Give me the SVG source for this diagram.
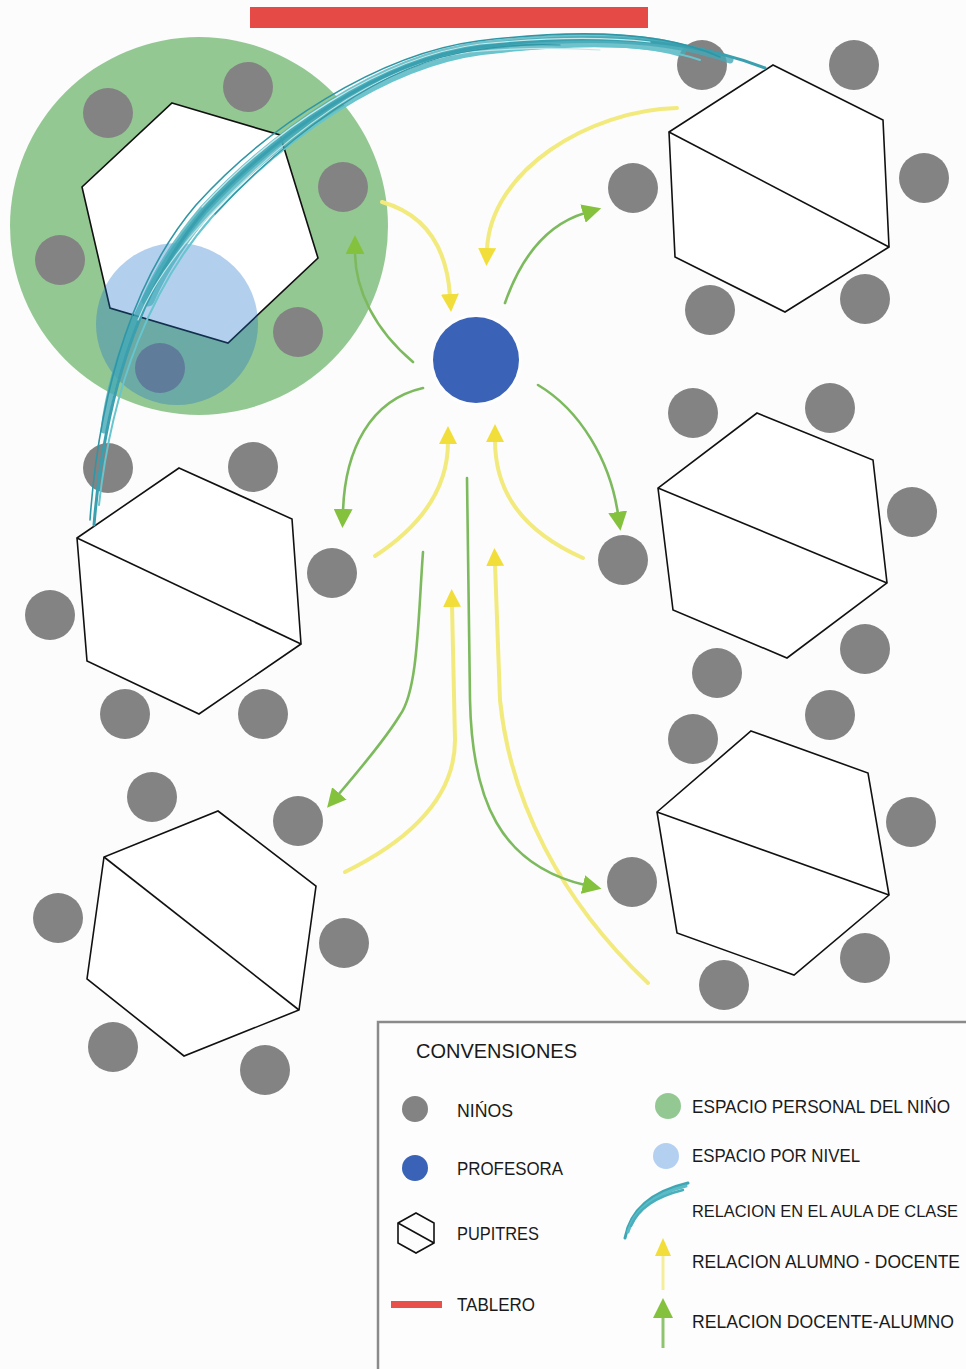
<svg xmlns="http://www.w3.org/2000/svg" width="966" height="1369" viewBox="0 0 966 1369">
  <style>
    .kid { fill: #838383; }
    .desk { fill: #ffffff; stroke: #111111; stroke-width: 1.6; stroke-linejoin: miter; }
    .cut { stroke: #111111; stroke-width: 1.6; fill: none; }
    .yel { fill: none; stroke: #f2ea7c; stroke-width: 4; stroke-linecap: round; }
    .grn { fill: none; stroke: #7dba5e; stroke-width: 2.6; stroke-linecap: round; }
    .teal { fill: none; stroke-linecap: round; stroke-linejoin: round; }
    .lbl { font-family: "Liberation Sans", "Open Sans", sans-serif; font-size: 19px; fill: #1a1a1a; }
    .lbr { font-family: "Liberation Sans", "Open Sans", sans-serif; font-size: 17.5px; fill: #1a1a1a; }
    .lbs { font-family: "Liberation Sans", "Open Sans", sans-serif; font-size: 16px; fill: #1a1a1a; }
    .ttl { font-family: "Liberation Sans", "Open Sans", sans-serif; font-size: 21px; fill: #1a1a1a; }
  </style>
  <defs>
    <marker id="headY" viewBox="0 0 18 18" markerWidth="18" markerHeight="18" refX="2" refY="9" orient="auto" markerUnits="userSpaceOnUse">
      <path d="M0,0 L18,9 L0,18 z" fill="#f2de3a"/>
    </marker>
    <marker id="headG" viewBox="0 0 18 18" markerWidth="19" markerHeight="19" refX="2" refY="9" orient="auto" markerUnits="userSpaceOnUse">
      <path d="M0,0 L18,9 L0,18 z" fill="#84c23e"/>
    </marker>
  </defs>

  <!-- room background -->
  <rect x="0" y="0" width="966" height="1369" fill="#fcfcfc"/>

  <!-- board -->
  <g id="tablero">
    <rect x="250" y="7" width="398" height="21" fill="#e64a47"/>
  </g>

  <!-- personal space of one child, with its table -->
  <g id="grupo-espacio-personal">
    <circle cx="199" cy="226" r="189" fill="#94c893"/>
    <polygon class="desk" points="172,103 280,135 318,258 228,343 110,308 82,187"/>
    <circle class="kid" cx="108" cy="113" r="25"/>
    <circle class="kid" cx="248" cy="87" r="25"/>
    <circle class="kid" cx="343" cy="187" r="25"/>
    <circle class="kid" cx="60" cy="260" r="25"/>
    <circle class="kid" cx="298" cy="332" r="25"/>
    <circle class="kid" cx="160" cy="368" r="25"/>
    <!-- level space, translucent over table and children -->
    <circle cx="177" cy="324" r="81" fill="#196dcb" fill-opacity="0.33"/>
  </g>

  <!-- top right table -->
  <g id="pupitre-1">
    <polygon class="desk" points="773,65 883,120 889,247 785,312 675,257 669,132"/>
    <line class="cut" x1="669" y1="132" x2="889" y2="247"/>
    <circle class="kid" cx="702" cy="65" r="25"/>
    <circle class="kid" cx="854" cy="65" r="25"/>
    <circle class="kid" cx="924" cy="178" r="25"/>
    <circle class="kid" cx="633" cy="188" r="25"/>
    <circle class="kid" cx="710" cy="310" r="25"/>
    <circle class="kid" cx="865" cy="299" r="25"/>
  </g>

  <!-- right middle table -->
  <g id="pupitre-2">
    <polygon class="desk" points="757,413 873,460 887,583 787,658 673,610 658,488"/>
    <line class="cut" x1="658" y1="488" x2="887" y2="583"/>
    <circle class="kid" cx="693" cy="413" r="25"/>
    <circle class="kid" cx="830" cy="408" r="25"/>
    <circle class="kid" cx="912" cy="512" r="25"/>
    <circle class="kid" cx="623" cy="560" r="25"/>
    <circle class="kid" cx="717" cy="673" r="25"/>
    <circle class="kid" cx="865" cy="649" r="25"/>
  </g>

  <!-- right bottom table -->
  <g id="pupitre-3">
    <polygon class="desk" points="751,731 868,773 889,895 794,975 677,933 657,812"/>
    <line class="cut" x1="657" y1="812" x2="889" y2="895"/>
    <circle class="kid" cx="693" cy="739" r="25"/>
    <circle class="kid" cx="830" cy="715" r="25"/>
    <circle class="kid" cx="911" cy="822" r="25"/>
    <circle class="kid" cx="632" cy="882" r="25"/>
    <circle class="kid" cx="724" cy="985" r="25"/>
    <circle class="kid" cx="865" cy="958" r="25"/>
  </g>

  <!-- left middle table -->
  <g id="pupitre-4">
    <polygon class="desk" points="179,468 292,519 301,644 199,714 87,661 77,538"/>
    <line class="cut" x1="77" y1="538" x2="301" y2="644"/>
    <circle class="kid" cx="108" cy="468" r="25"/>
    <circle class="kid" cx="253" cy="467" r="25"/>
    <circle class="kid" cx="332" cy="573" r="25"/>
    <circle class="kid" cx="50" cy="615" r="25"/>
    <circle class="kid" cx="125" cy="714" r="25"/>
    <circle class="kid" cx="263" cy="714" r="25"/>
  </g>

  <!-- left bottom table -->
  <g id="pupitre-5">
    <polygon class="desk" points="218,811 316,886 299,1010 184,1056 87,979 104,857"/>
    <line class="cut" x1="104" y1="857" x2="299" y2="1010"/>
    <circle class="kid" cx="152" cy="797" r="25"/>
    <circle class="kid" cx="298" cy="821" r="25"/>
    <circle class="kid" cx="344" cy="943" r="25"/>
    <circle class="kid" cx="58" cy="918" r="25"/>
    <circle class="kid" cx="113" cy="1047" r="25"/>
    <circle class="kid" cx="265" cy="1070" r="25"/>
  </g>

  <!-- brushed classroom relation stroke: wide band in the middle, thin at both ends -->
  <g id="relacion-aula">
    <path class="teal" stroke="#45adb9" stroke-opacity="0.75" stroke-width="13" d="M680,50 Q620,32 480,48 C380,61 275,136 205,211 C178,243 160,272 148,300"/>
    <path class="teal" stroke="#43a9b7" stroke-opacity="0.8" stroke-width="7" d="M730,60 Q640,27 480,47 C380,60 275,135 205,210 C146,279 112,360 104,430"/>
    <path class="teal" stroke="#3a9fae" stroke-width="3" d="M765,68 Q650,24 480,47 C380,60 275,135 205,210 C146,279 106,380 94,525"/>
    <path class="teal" stroke="#2f96a6" stroke-width="1.6" d="M720,57 Q640,21 478,41 C378,54 266,127 196,205 C138,273 100,380 90,520"/>
    <path class="teal" stroke="#66c5ce" stroke-width="2" d="M700,60 Q630,36 482,54 C384,67 281,141 212,217 C152,285 112,385 99,505"/>
    <path class="teal" stroke="#c6e9ec" stroke-width="1.2" d="M650,42 Q580,34 480,44 C380,57 272,131 202,207"/>
    <path class="teal" stroke="#bfe6ea" stroke-width="1.2" d="M600,50 Q540,46 470,52 C372,66 280,140 210,215 C170,258 150,290 138,320"/>
    <path class="teal" stroke="#2f96a6" stroke-width="1.2" d="M560,45 Q520,43 476,50 C380,63 285,139 215,214"/>
  </g>

  <!-- connectors: student to teacher (yellow), teacher to student (green) -->
  <g id="conectores">
    <path class="yel" marker-end="url(#headY)" d="M382,202 Q445,220 450,296"/>
    <path class="yel" marker-end="url(#headY)" d="M677,108 C590,110 490,170 487,250"/>
    <path class="yel" marker-end="url(#headY)" d="M375,556 C430,520 448,480 448,442"/>
    <path class="yel" marker-end="url(#headY)" d="M583,558 C520,530 495,490 495,440"/>
    <path class="yel" marker-end="url(#headY)" d="M345,872 C420,835 455,790 455,740 L452,605"/>
    <path class="yel" marker-end="url(#headY)" d="M648,983 C560,900 510,800 500,700 L495,564"/>

    <path class="grn" marker-end="url(#headG)" d="M413,362 C375,330 355,290 355,252"/>
    <path class="grn" marker-end="url(#headG)" d="M505,303 C520,260 545,225 585,213"/>
    <path class="grn" marker-end="url(#headG)" d="M423,388 C370,400 345,450 343,511"/>
    <path class="grn" marker-end="url(#headG)" d="M538,385 C580,410 610,460 618,514"/>
    <path class="grn" marker-end="url(#headG)" d="M423,552 C418,620 418,690 400,715 C385,740 355,775 338,795"/>
    <path class="grn" marker-end="url(#headG)" d="M467,478 L470,700 C472,800 500,865 585,885"/>
  </g>

  <!-- teacher -->
  <g id="profesora">
    <circle cx="476" cy="360" r="46" fill="#ffffff" opacity="0.6"/>
    <circle cx="476" cy="360" r="43" fill="#3a62b7"/>
  </g>

  <!-- legend -->
  <g id="convenciones">
    <rect x="378" y="1022" width="600" height="360" fill="#fdfdfd" stroke="#8a8a8a" stroke-width="2.5"/>
    <text class="ttl" x="416" y="1058" textLength="161" lengthAdjust="spacingAndGlyphs">CONVENSIONES</text>

    <circle class="kid" cx="415" cy="1109" r="13"/>
    <text class="lbl" x="457" y="1117" textLength="56" lengthAdjust="spacingAndGlyphs">NIŃOS</text>

    <circle cx="415" cy="1168" r="13" fill="#3a62b7"/>
    <text class="lbl" x="457" y="1175" textLength="106" lengthAdjust="spacingAndGlyphs">PROFESORA</text>

    <polygon points="416,1213 434,1223 434,1243 416,1253 398,1243 398,1223" fill="none" stroke="#111" stroke-width="1.6"/>
    <line x1="398" y1="1223" x2="434" y2="1243" stroke="#111" stroke-width="1.6"/>
    <text class="lbl" x="457" y="1240" textLength="82" lengthAdjust="spacingAndGlyphs">PUPITRES</text>

    <rect x="391" y="1301" width="51" height="7" fill="#e8504a"/>
    <text class="lbl" x="457" y="1311" textLength="78" lengthAdjust="spacingAndGlyphs">TABLERO</text>

    <circle cx="668" cy="1106" r="13" fill="#94c893"/>
    <text class="lbr" x="692" y="1113" textLength="258" lengthAdjust="spacingAndGlyphs">ESPACIO PERSONAL DEL NIŃO</text>

    <circle cx="666" cy="1156" r="13" fill="#b4d0f0"/>
    <text class="lbr" x="692" y="1162" textLength="168" lengthAdjust="spacingAndGlyphs">ESPACIO POR NIVEL</text>

    <path class="teal" stroke="#3fa6b4" stroke-width="3" d="M625,1238 Q633,1196 688,1183"/>
    <path class="teal" stroke="#5bbcc7" stroke-width="3" d="M628,1232 Q638,1198 686,1186"/>
    <path class="teal" stroke="#49afbc" stroke-width="2.5" d="M631,1226 Q642,1200 683,1190"/>
    <text class="lbs" x="692" y="1217" textLength="266" lengthAdjust="spacingAndGlyphs">RELACION EN EL AULA DE CLASE</text>

    <line x1="663" y1="1254" x2="663" y2="1290" stroke="#f4ee9a" stroke-width="3"/>
    <path d="M655,1256 L663,1238 L671,1256 z" fill="#f2de3a"/>
    <text class="lbr" x="692" y="1268" textLength="268" lengthAdjust="spacingAndGlyphs">RELACION ALUMNO - DOCENTE</text>

    <line x1="663" y1="1316" x2="663" y2="1348" stroke="#8fc46f" stroke-width="3"/>
    <path d="M653,1318 L663,1298 L673,1318 z" fill="#84c23e"/>
    <text class="lbr" x="692" y="1328" textLength="262" lengthAdjust="spacingAndGlyphs">RELACION DOCENTE-ALUMNO</text>
  </g>
</svg>
